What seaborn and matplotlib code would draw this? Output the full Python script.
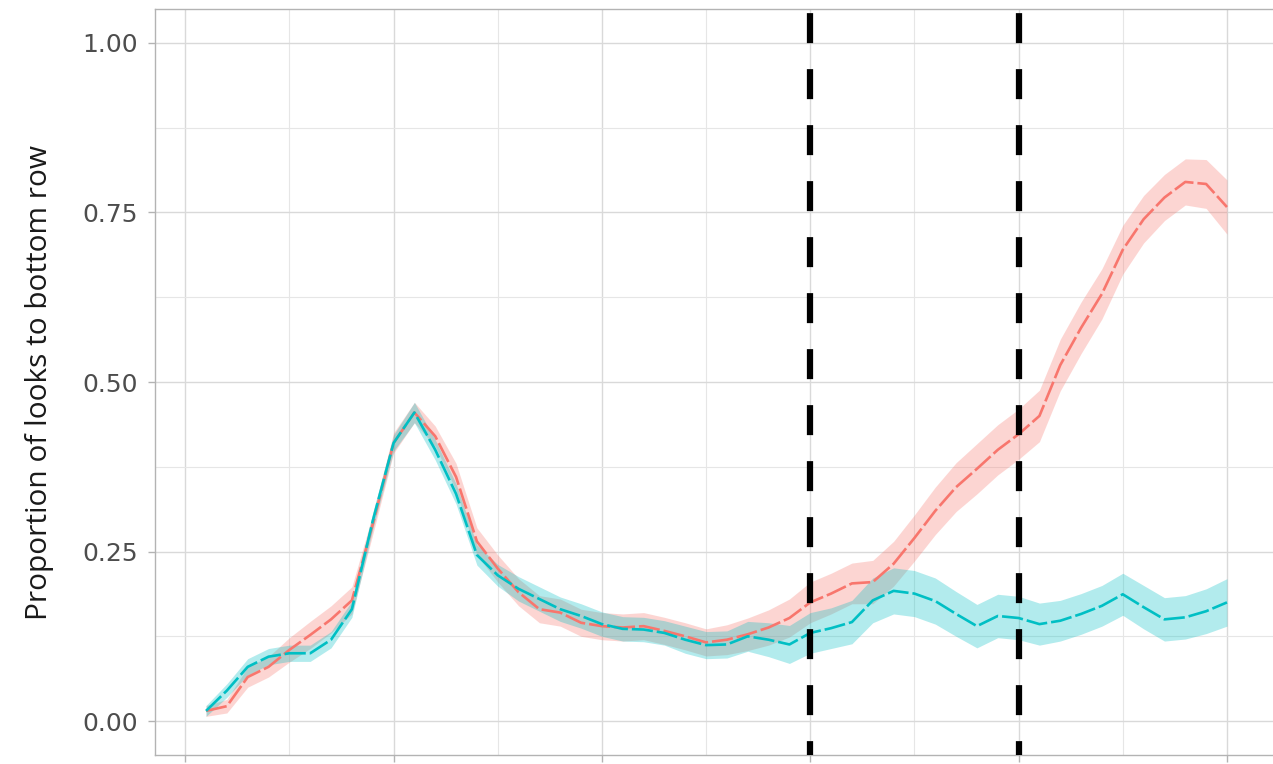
import numpy as np
import pandas as pd
import matplotlib
matplotlib.use("Agg")
import matplotlib.pyplot as plt
import seaborn as sns

# ---- data ----
time_ms = [50 * i for i in range(1, 51)]

red_mean = [0.015, 0.022, 0.065, 0.080, 0.105, 0.127, 0.150, 0.178, 0.290, 0.410,
            0.455, 0.420, 0.360, 0.265, 0.225, 0.190, 0.165, 0.160, 0.145, 0.140,
            0.138, 0.140, 0.133, 0.125, 0.116, 0.120, 0.128, 0.138, 0.152, 0.175,
            0.188, 0.203, 0.205, 0.232, 0.270, 0.310, 0.345, 0.372, 0.400, 0.423,
            0.450, 0.525, 0.580, 0.630, 0.695, 0.740, 0.772, 0.795, 0.792, 0.758]
red_se = [0.008, 0.010, 0.015, 0.015, 0.018, 0.020, 0.020, 0.020, 0.015, 0.015,
          0.015, 0.015, 0.020, 0.020, 0.020, 0.020, 0.020, 0.020, 0.020, 0.020,
          0.020, 0.020, 0.020, 0.020, 0.020, 0.022, 0.024, 0.026, 0.028, 0.030,
          0.030, 0.030, 0.032, 0.033, 0.034, 0.035, 0.036, 0.037, 0.037, 0.037,
          0.038, 0.038, 0.038, 0.037, 0.036, 0.035, 0.034, 0.034, 0.036, 0.040]

teal_mean = [0.015, 0.045, 0.080, 0.095, 0.100, 0.100, 0.120, 0.165, 0.295, 0.410,
             0.455, 0.400, 0.335, 0.245, 0.215, 0.195, 0.180, 0.165, 0.155, 0.143,
             0.136, 0.135, 0.130, 0.120, 0.112, 0.113, 0.125, 0.120, 0.113, 0.130,
             0.137, 0.146, 0.178, 0.192, 0.188, 0.177, 0.158, 0.140, 0.155, 0.152,
             0.143, 0.148, 0.158, 0.170, 0.187, 0.168, 0.150, 0.153, 0.162, 0.175]
teal_se = [0.008, 0.010, 0.012, 0.012, 0.012, 0.012, 0.012, 0.012, 0.012, 0.012,
           0.015, 0.015, 0.015, 0.015, 0.016, 0.018, 0.018, 0.018, 0.018, 0.018,
           0.018, 0.018, 0.018, 0.020, 0.020, 0.020, 0.022, 0.025, 0.028, 0.030,
           0.030, 0.032, 0.033, 0.034, 0.034, 0.034, 0.033, 0.032, 0.032, 0.032,
           0.031, 0.030, 0.030, 0.030, 0.031, 0.032, 0.032, 0.032, 0.033, 0.035]

conditions = ["A", "B"]
vlines_ms = [1500, 2000]
y_ticks = [0.0, 0.25, 0.50, 0.75, 1.00]
y_tick_labels = ["0.00", "0.25", "0.50", "0.75", "1.00"]
x_major = [0, 500, 1000, 1500, 2000, 2500]
y_label = "Proportion of looks to bottom row"

palette = {"A": "#F8766D", "B": "#00BFC4"}

df = pd.DataFrame({
    "time": time_ms * 2,
    "prop": red_mean + teal_mean,
    "se": red_se + teal_se,
    "cond": [conditions[0]] * len(time_ms) + [conditions[1]] * len(time_ms),
})

sns.set_theme(style="whitegrid")
plt.rcParams["font.family"] = ["DejaVu Sans"]

fig = plt.figure(figsize=(12.73, 7.64), dpi=100)
ax = fig.add_axes([155 / 1273, 9 / 764, 1123 / 1273, 746 / 764])
ax.set_facecolor("white")

# ribbons
for c in conditions:
    d = df[df["cond"] == c]
    ax.fill_between(d["time"], d["prop"] - d["se"], d["prop"] + d["se"],
                    color=palette[c], alpha=0.30, linewidth=0, zorder=2)

sns.lineplot(data=df, x="time", y="prop", hue="cond", palette=palette,
             ax=ax, legend=False, linewidth=1.9, zorder=3, errorbar=None)
for ln in ax.get_lines():
    ln.set_dashes((8, 1.5))

# vertical dashed lines
for v in vlines_ms:
    ax.plot([v, v], [1.05, -0.05], color="black", lw=4.5,
            linestyle=(8.3, (4.8, 4.16)), zorder=4, solid_capstyle="butt",
            dash_capstyle="butt")

ax.set_xlim(-72.5, 2622.5)
ax.set_ylim(-0.05, 1.05)
ax.set_xticks(x_major)
ax.set_xticks([250, 750, 1250, 1750, 2250], minor=True)
ax.set_yticks(y_ticks)
ax.set_yticks([0.125, 0.375, 0.625, 0.875], minor=True)
ax.set_yticklabels(y_tick_labels)

ax.grid(which="major", color="#D9D9D9", linewidth=1.0)
ax.grid(which="minor", color="#E6E6E6", linewidth=0.8)
ax.set_axisbelow(True)

for s in ax.spines.values():
    s.set_color("#B3B3B3")
    s.set_linewidth(1.0)

ax.tick_params(axis="y", which="major", length=5, width=1.0, color="#B3B3B3",
               labelsize=18, labelcolor="#4D4D4D", pad=7, left=True)
ax.tick_params(axis="x", which="major", length=5, width=1.0, color="#B3B3B3",
               labelbottom=False, bottom=True)
ax.tick_params(which="minor", length=0)

ax.set_xlabel("")
ax.set_ylabel(y_label, fontsize=21.5, family=["Open Sans", "DejaVu Sans"],
              color="#1A1A1A", va="center")
ax.yaxis.set_label_coords((40 - 155) / 1123, 0.5)

fig.savefig("out.png", dpi=100)
